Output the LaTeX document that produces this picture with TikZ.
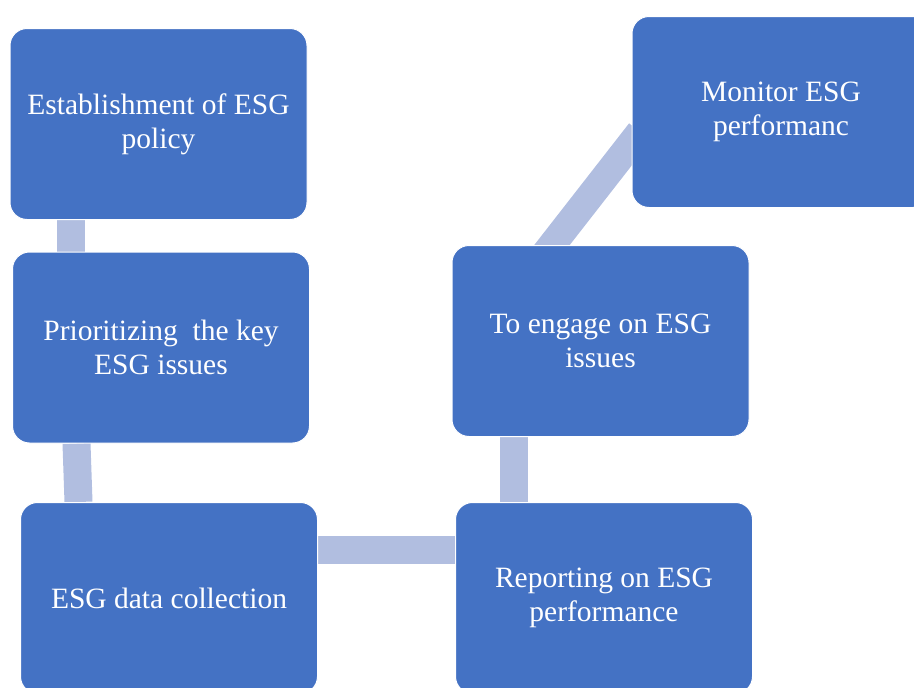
\documentclass[tikz,border=0pt]{standalone}
\usepackage{fontspec}
\setmainfont{Liberation Serif}
\usepackage{xcolor}
\usetikzlibrary{calc,backgrounds}

\definecolor{esgblue}{HTML}{4472C4}
\definecolor{esglink}{RGB}{177,190,224}

\tikzset{
  stepbox/.style={draw=white, line width=1pt, fill=esgblue, rounded corners=17pt,
    minimum width=297pt, minimum height=191pt, text=white, align=center,
    inner sep=0pt, font=\fontsize{29.5}{34}\selectfont},
  link/.style={draw=esglink, line width=28pt}
}

\begin{document}
\begin{tikzpicture}[x=1pt,y=-1pt]
  \clip (0,0) rectangle (914,688);
  % process boxes
  \node[stepbox] (est) at (158.5,124) {Establishment of ESG\\policy};
  \node[stepbox] (pri) at (161,347.5) {Prioritizing~ the key\\ESG issues};
  \node[stepbox] (col) at (169,598) {ESG data collection};
  \node[stepbox] (rep) at (604,598) {Reporting on ESG\\performance};
  \node[stepbox] (eng) at (600.5,341) {To engage on ESG\\issues};
  \node[stepbox, minimum width=298pt] (mon) at (781,112) {Monitor ESG\\performanc};
  % connectors
  \coordinate (e1) at ([xshift=-48.5pt]eng.north);
  \coordinate (m1) at ([yshift=-31pt]mon.west);
  \begin{scope}[on background layer]
    \draw[link] ([xshift=-87.5pt]est.south) -- ([xshift=-90pt]pri.north);
    \draw[link] ([xshift=-84.5pt]pri.south) -- ([xshift=-90.5pt]col.north);
    \draw[link] ([yshift=48pt]col.east) -- ([yshift=48pt]rep.west);
    \draw[link] ([xshift=-86.5pt]eng.south) -- ([xshift=-90pt]rep.north);
    \draw[link] ($(e1)!-14pt!(m1)$) -- ($(m1)!-14pt!(e1)$);
  \end{scope}
\end{tikzpicture}
\end{document}
